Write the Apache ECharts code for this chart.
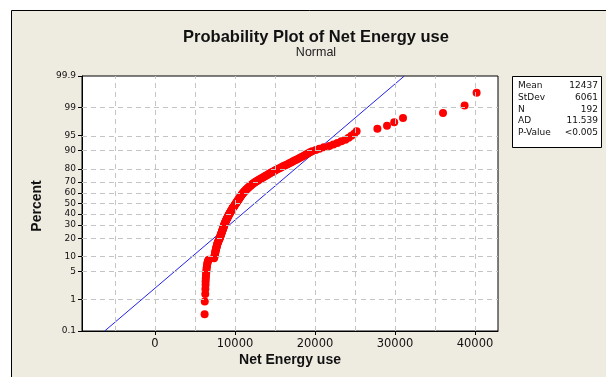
<!DOCTYPE html>
<html>
<head>
<meta charset="utf-8">
<script src="https://cdn.jsdelivr.net/npm/echarts@6/dist/echarts.min.js"></script>
<style>
  html, body { margin: 0; padding: 0; background: #fff; }
  #chart { width: 606px; height: 377px; }
</style>
</head>
<body>
<div id="chart"></div>
<script>
// sorted Net Energy use values (rank 1 .. 192)
const energyUse = [
  6200, 6220, 6280, 6300, 6320, 6330, 6350, 6370, 6390, 6420, 6440, 6470, 6500, 6530, 6570, 6620, 6700,
  7380, 7420, 7450, 7480, 7510, 7540, 7560, 7590, 7620, 7650, 7680, 7710, 7740, 7770, 7800, 7840, 7880, 7920, 7960, 8000, 8060,
  8100, 8130, 8160, 8190, 8220, 8250, 8280, 8310, 8340, 8370, 8400, 8430, 8460, 8490, 8520, 8550, 8570, 8590, 8620, 8640,
  8670, 8700, 8730, 8760, 8800, 8830, 8860, 8900, 8930, 8960, 9000, 9030, 9070, 9100, 9140, 9170, 9210, 9240, 9280,
  9320, 9360, 9400, 9440, 9480, 9520, 9560, 9600, 9640, 9680, 9720, 9760, 9800, 9850, 9900, 9950, 9990, 10030, 10080,
  10130, 10170, 10220, 10260, 10310, 10350, 10400, 10440, 10490, 10530, 10580, 10620, 10670, 10710, 10760, 10810, 10860, 10910, 10960,
  11020, 11080, 11140, 11200, 11270, 11340, 11410, 11480, 11550, 11630, 11710, 11790, 11870, 11960, 12050, 12140, 12230, 12340, 12460, 12580,
  12700, 12830, 12960, 13090, 13220, 13360, 13500, 13640, 13780, 13920, 14070, 14220, 14370, 14520, 14680, 14840, 15000, 15170, 15350,
  15550, 15750, 15950, 16150, 16360, 16570, 16780, 17000, 17220, 17440, 17670, 17900, 18130, 18370, 18610, 18860, 19110, 19370, 19640,
  20100, 20550, 21100, 21800, 22300, 22800, 23300, 23800, 24200, 24550, 24900, 25200,
  27800, 29000, 29900, 31000, 36000, 38700, 40200
]

const percentTicks = [0.1, 1, 5, 10, 20, 30, 40, 50, 60, 70, 80, 90, 95, 99, 99.9]
const xLabelTicks = [0, 10000, 20000, 30000, 40000]
const xGridTicks = [-5000, 0, 5000, 10000, 15000, 20000, 25000, 30000, 35000, 40000]

const statLabels = ['Mean', 'StDev', 'N', 'AD', 'P-Value']
const statValues = ['12437', '6061', '192', '11.539', '<0.005']
const fitMean = 12437
const fitStDev = 6061

// inverse standard normal CDF (Acklam)
function invNorm(p) {
  const a = [-3.969683028665376e+01, 2.209460984245205e+02, -2.759285104469687e+02, 1.383577518672690e+02, -3.066479806614716e+01, 2.506628277459239e+00]
  const b = [-5.447609879822406e+01, 1.615858368580409e+02, -1.556989798598866e+02, 6.680131188771972e+01, -1.328068155288572e+01]
  const c = [-7.784894002430293e-03, -3.223964580411365e-01, -2.400758277161838e+00, -2.549732539343734e+00, 4.374664141464968e+00, 2.938163982698783e+00]
  const d = [7.784695709041462e-03, 3.224671290700398e-01, 2.445134137142996e+00, 3.754408661907416e+00]
  const pl = 0.02425
  let q, r
  if (p < pl) {
    q = Math.sqrt(-2 * Math.log(p))
    return (((((c[0]*q+c[1])*q+c[2])*q+c[3])*q+c[4])*q+c[5]) / ((((d[0]*q+d[1])*q+d[2])*q+d[3])*q+1)
  }
  if (p > 1 - pl) {
    q = Math.sqrt(-2 * Math.log(1 - p))
    return -(((((c[0]*q+c[1])*q+c[2])*q+c[3])*q+c[4])*q+c[5]) / ((((d[0]*q+d[1])*q+d[2])*q+d[3])*q+1)
  }
  q = p - 0.5
  r = q * q
  return (((((a[0]*r+a[1])*r+a[2])*r+a[3])*r+a[4])*r+a[5])*q / (((((b[0]*r+b[1])*r+b[2])*r+b[3])*r+b[4])*r+1)
}

// probability scale: percent -> normal score
const zTicks = percentTicks.map(p => invNorm(p / 100))
const zMin = zTicks[0]
const zMax = zTicks[zTicks.length - 1]

// median rank plotting positions
const n = energyUse.length
const points = energyUse.map((v, i) => [v, invNorm((i + 1 - 0.3) / (n + 0.4))])
const fitLine = [[fitMean + zMin * fitStDev, zMin], [fitMean + zMax * fitStDev, zMax]]

const gridStyle = { color: '#c4c4c4', width: 1, type: [5, 4] }
const font = 'DejaVu Sans'
const titleFont = '"Liberation Sans"'

const chart = echarts.init(document.getElementById('chart'))
chart.setOption({
  animation: false,
  backgroundColor: '#fff',
  textStyle: { fontFamily: font },
  graphic: [
    {
      type: 'rect', z: -10, silent: true,
      shape: { x: 11.5, y: 10.5, width: 620, height: 400 },
      style: { fill: '#eeebe1', stroke: '#000', lineWidth: 1 }
    },
    {
      type: 'text', z: 10, x: 316, y: 37,
      style: { text: 'Probability Plot of Net Energy use', font: 'bold 16.5px ' + titleFont, fill: '#111', align: 'center', verticalAlign: 'middle' }
    },
    {
      type: 'text', z: 10, x: 316, y: 53,
      style: { text: 'Normal', font: '12.5px ' + titleFont, fill: '#222', align: 'center', verticalAlign: 'middle' }
    },
    {
      type: 'text', z: 10, x: 37, y: 206, rotation: Math.PI / 2,
      style: { text: 'Percent', font: 'bold 14px ' + titleFont, fill: '#111', align: 'center', verticalAlign: 'middle' }
    },
    {
      type: 'text', z: 10, x: 290, y: 360,
      style: { text: 'Net Energy use', font: 'bold 14px ' + titleFont, fill: '#111', align: 'center', verticalAlign: 'middle' }
    },
    {
      type: 'rect', z: 10,
      shape: { x: 512.5, y: 76.5, width: 89, height: 71 },
      style: { fill: '#fff', stroke: '#000', lineWidth: 1 }
    },
    ...statLabels.map((t, i) => ({
      type: 'text', z: 11, x: 518, y: 86 + i * 11.6,
      style: { text: t, font: '9px "DejaVu Sans"', fill: '#111', align: 'left', verticalAlign: 'middle' }
    })),
    ...statValues.map((t, i) => ({
      type: 'text', z: 11, x: 598, y: 86 + i * 11.6,
      style: { text: t, font: '9px "DejaVu Sans"', fill: '#111', align: 'right', verticalAlign: 'middle' }
    }))
  ],
  grid: {
    left: 82, right: 108, top: 76, bottom: 46,
    show: true, backgroundColor: '#fff', borderColor: '#000', borderWidth: 1
  },
  xAxis: {
    type: 'value', min: -9125, max: 42875,
    axisLine: { onZero: false, lineStyle: { color: '#000' } },
    axisTick: { show: true, length: 4, customValues: xLabelTicks, lineStyle: { color: '#000' } },
    axisLabel: { customValues: xLabelTicks, fontSize: 11.5, color: '#111', margin: 7, fontFamily: font, formatter: v => String(v) },
    splitLine: { show: false }
  },
  yAxis: {
    type: 'value', min: zMin, max: zMax,
    axisLine: { show: true, onZero: false, lineStyle: { color: '#000' } },
    axisTick: { show: true, length: 4, customValues: zTicks, lineStyle: { color: '#000' } },
    axisLabel: {
      customValues: zTicks, fontSize: 9, color: '#111', margin: 6, fontFamily: font,
      formatter: v => {
        let best = 0
        zTicks.forEach((z, i) => { if (Math.abs(z - v) < Math.abs(zTicks[best] - v)) best = i })
        return String(percentTicks[best])
      }
    },
    splitLine: { show: false }
  },
  series: [
    {
      type: 'line', data: fitLine, symbol: 'none', silent: true, z: 2,
      lineStyle: { color: '#2020ee', width: 1 },
      markLine: {
        silent: true, symbol: 'none', label: { show: false }, animation: false,
        lineStyle: gridStyle,
        data: [
          ...xGridTicks.map(v => ({ xAxis: v })),
          ...zTicks.slice(1, -1).map(z => ({ yAxis: z }))
        ]
      }
    },
    {
      type: 'scatter', data: points, symbol: 'circle', symbolSize: 8, z: 3,
      itemStyle: { color: '#ff0000', opacity: 1 }
    }
  ]
})
</script>
</body>
</html>
